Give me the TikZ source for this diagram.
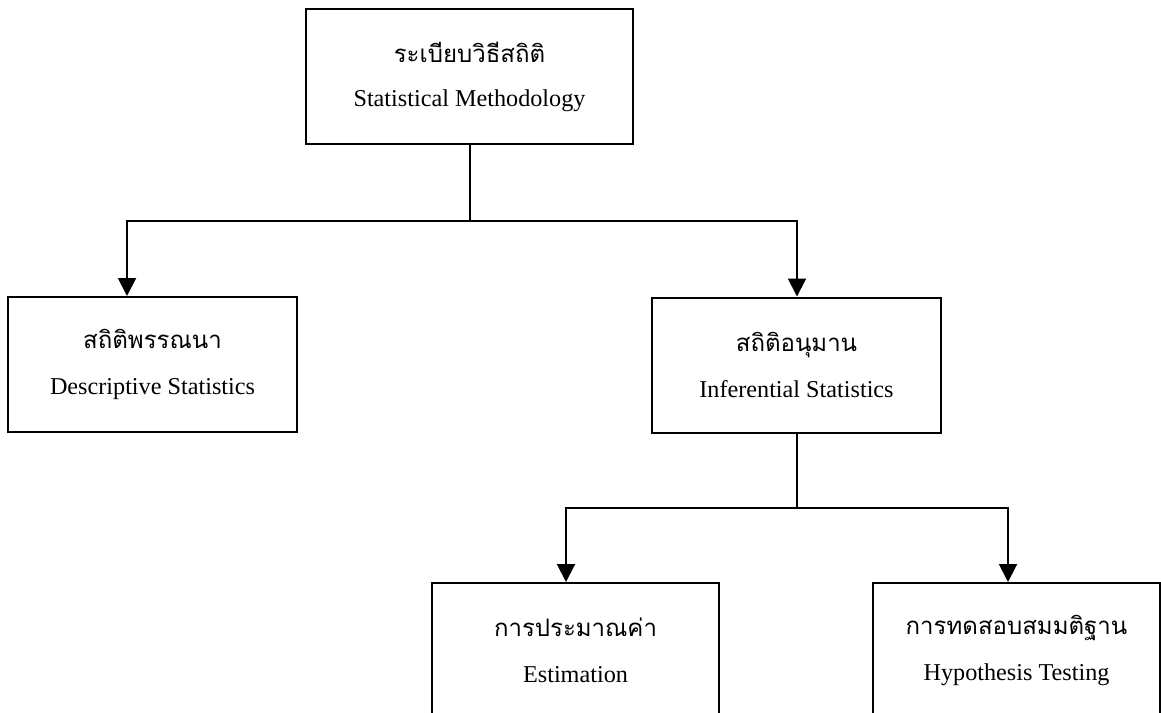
\documentclass[tikz,border=0pt]{standalone}
\usepackage{fontspec}
\setmainfont{Liberation Serif}
\newfontfamily\thaifont[Script=Thai]{Loma}
\usetikzlibrary{arrows.meta}

\tikzset{
  box/.style={draw,line width=1pt,inner sep=0pt,align=center,minimum height=67.5pt},
  link/.style={line width=1pt},
  arr/.style={line width=1pt,-{Triangle[width=9pt,length=9pt]}}
}

\begin{document}
\begin{tikzpicture}[x=0.5pt,y=-0.5pt,font=\fontsize{12.1}{14}\selectfont]
  \useasboundingbox (0,0) rectangle (1161,712);
  % boxes
  \node[box,minimum width=163.5pt] (method) at (469.5,76.5)
    {{\thaifont\fontsize{12}{14}\selectfont ระเบียบวิธีสถิติ}\\[8pt] Statistical Methodology};
  \node[box,minimum width=144.5pt] (desc) at (152.5,364.5)
    {{\thaifont\fontsize{12}{14}\selectfont สถิติพรรณนา}\\[9pt] Descriptive Statistics};
  \node[box,minimum width=144.5pt] (infer) at (796.5,365)
    {{\thaifont\fontsize{12}{14}\selectfont สถิติอนุมาน}\\[9pt] Inferential Statistics};
  \node[box,minimum width=143.5pt] (estim) at (575.5,650.5)
    {{\thaifont\fontsize{12}{14}\selectfont การประมาณค่า}\\[9pt] Estimation};
  \node[box,minimum width=143.5pt] (hypo) at (1016.5,650.5)
    {{\thaifont\fontsize{12}{14}\selectfont การทดสอบสมมติฐาน}\\[9pt] Hypothesis Testing};
  % branch points
  \coordinate (splitL) at (127,221);
  \coordinate (splitR) at (797,221);
  \coordinate (forkL) at (566,508);
  \coordinate (forkR) at (1008,508);
  % connectors
  \draw[arr] (method.south) |- (splitL) -- (splitL |- desc.north);
  \draw[arr] (method.south |- splitR) -- (splitR) -- (splitR |- infer.north);
  \draw[arr] (infer.south) |- (forkL) -- (forkL |- estim.north);
  \draw[arr] (infer.south |- forkR) -- (forkR) -- (forkR |- hypo.north);
\end{tikzpicture}
\end{document}
